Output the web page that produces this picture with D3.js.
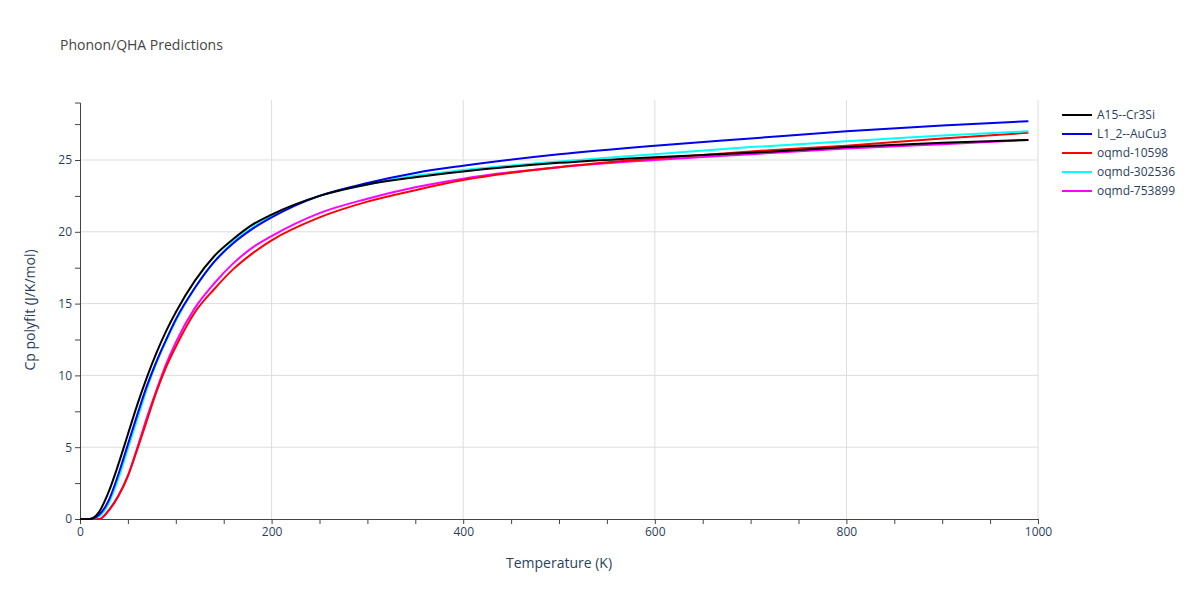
<!DOCTYPE html>
<html><head><meta charset="utf-8">
<script src="https://cdn.jsdelivr.net/npm/d3@7"></script>
<style>body{margin:0;background:#fff}text{font-family:"Open Sans",Arial,sans-serif}</style>
</head><body><svg id="chart" width="1200" height="600"></svg>
<script>
const temps = [0,10,20,30,40,50,60,70,80,90,100,120,140,160,180,200,250,300,350,400,500,600,700,800,900,990];
const seriesNames = ["A15--Cr3Si","L1_2--AuCu3","oqmd-10598","oqmd-302536","oqmd-753899"];
const colors = ["#000000","#0000ee","#ff0000","#00ffff","#ff00ff"];
const a15 = [0,0,0.5,1.9,3.8,5.9,8.0,9.9,11.6,13.1,14.4,16.6,18.3,19.5,20.5,21.2,22.5,23.3,23.8,24.2,24.8,25.2,25.5,25.9,26.2,26.4];
const l12 = [0,0,0.3,1.3,3.1,5.2,7.3,9.3,11.0,12.5,13.9,16.1,17.9,19.2,20.2,21.0,22.5,23.4,24.1,24.6,25.4,26.0,26.5,27.0,27.4,27.7];
const o10598 = [0,0,0,0.6,1.6,3.0,4.9,6.9,8.9,10.6,12.0,14.4,16.0,17.4,18.5,19.4,21.0,22.1,22.9,23.6,24.5,25.1,25.6,26.0,26.5,26.9];
const o302536 = [0,0,0.2,1.1,2.8,4.9,7.0,9.1,10.9,12.4,13.8,16.1,17.9,19.3,20.3,21.1,22.5,23.3,23.9,24.3,24.9,25.4,25.9,26.3,26.7,27.0];
const o753899 = [0,0,0,0.6,1.6,3.0,5.0,7.1,9.0,10.8,12.3,14.7,16.4,17.8,18.9,19.7,21.3,22.3,23.1,23.7,24.5,25.0,25.4,25.8,26.1,26.4];
const values = [a15,l12,o10598,o302536,o753899];
const drawOrder = [4,2,3,1,0];
const xTicks = [0,200,400,600,800,1000];
const yTicks = [0,5,10,15,20,25];

const svg = d3.select("#chart");
const x = d3.scaleLinear().domain([0,1000]).range([80,1038]);
const y = d3.scaleLinear().domain([0,25]).range([519,160]);
const plotTop = 100;
const tc = "#2a3f5f";

const g = svg.append("g");
// grid
g.selectAll("line.gx").data(xTicks.slice(1)).enter().append("line")
  .attr("x1",d=>x(d)).attr("x2",d=>x(d)).attr("y1",plotTop).attr("y2",519)
  .attr("stroke","#dddddd");
g.selectAll("line.gy").data(yTicks.slice(1)).enter().append("line")
  .attr("y1",d=>y(d)).attr("y2",d=>y(d)).attr("x1",80).attr("x2",1038)
  .attr("stroke","#dddddd");

// axes
const xa = svg.append("g").attr("transform","translate(0,519)")
  .call(d3.axisBottom(x).tickValues(d3.range(0,1001,50)).tickSize(5).tickFormat(d=>xTicks.includes(d)?d:""));
const ya = svg.append("g").attr("transform","translate(80,0)")
  .call(d3.axisLeft(y.copy().domain([0,29]).range([519,519-29*(359/25)])).tickValues(d3.range(0,29.1,2.5)).tickSize(5).tickFormat(d=>yTicks.includes(d)?d:""));
[xa,ya].forEach(a=>{
  a.select(".domain").attr("stroke","#444");
  a.selectAll(".tick line").attr("stroke","#444");
  a.selectAll("text").attr("fill",tc).attr("font-size",12).attr("font-family","'Open Sans',Arial,sans-serif");
});

// lines
const line = d3.line().x((d,i)=>x(temps[i])).y(d=>y(d)).curve(d3.curveMonotoneX);
drawOrder.forEach(k=>{
  svg.append("path").datum(values[k]).attr("d",line)
    .attr("fill","none").attr("stroke",colors[k]).attr("stroke-width",2);
});

// labels
svg.append("text").attr("x",60).attr("y",50).attr("font-size",14).attr("fill","#444").text("Phonon/QHA Predictions");
svg.append("text").attr("x",559).attr("y",568).attr("text-anchor","middle").attr("font-size",14).attr("fill",tc).text("Temperature (K)");
svg.append("text").attr("transform","translate(35,310) rotate(-90)").attr("text-anchor","middle").attr("font-size",14).attr("fill",tc).text("Cp polyfit (J/K/mol)");

// legend
const lg = svg.append("g").attr("transform","translate(1062,115)");
seriesNames.forEach((n,i)=>{
  const r = lg.append("g").attr("transform",`translate(0,${i*19})`);
  r.append("line").attr("x1",0).attr("x2",30).attr("stroke",colors[i]).attr("stroke-width",2);
  r.append("text").attr("x",35).attr("y",4).attr("font-size",12).attr("fill",tc).text(n);
});
</script></body></html>
